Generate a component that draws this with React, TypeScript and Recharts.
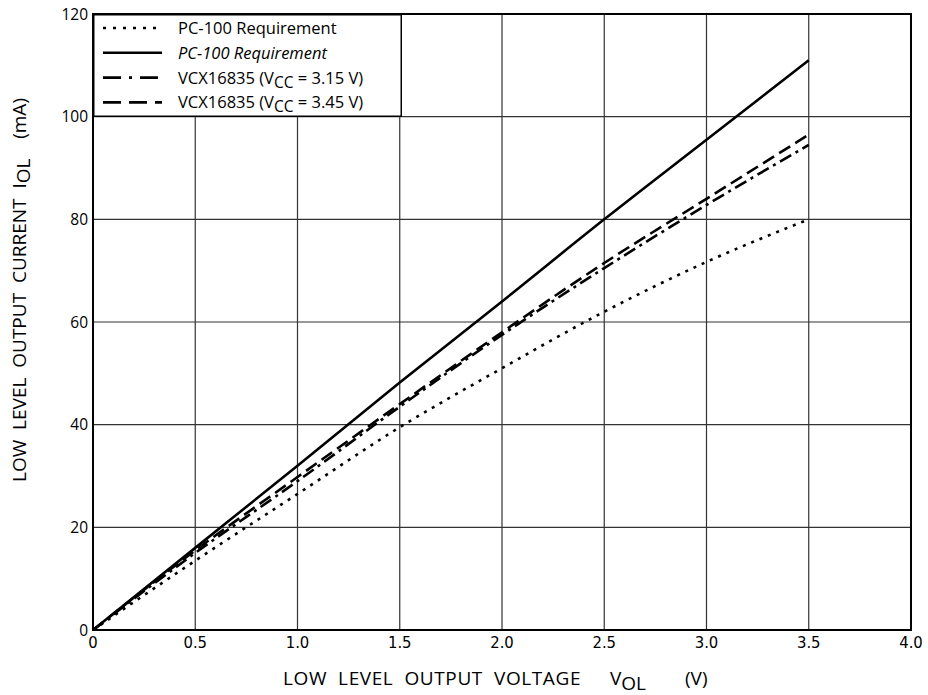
import { LineChart, Line, XAxis, YAxis, CartesianGrid, Legend, Label, ReferenceArea } from 'recharts';

// output voltage V_OL (V)
const voltages = [0, 0.5, 1.0, 1.5, 2.0, 2.5, 3.0, 3.5];
// output current I_OL (mA)
const pc100Min = [0, 13.5, 26.5, 39.5, 51, 62, 71.7, 80];
const pc100Max = [0, 16, 32, 48.2, 64, 80, 95.5, 111];
const vcc315 = [0, 15, 29, 43.5, 57.5, 70.5, 82.8, 94.5];
const vcc345 = [0, 15.5, 29.8, 44, 58, 71.5, 84, 96.5];

const xTicks = [0, 0.5, 1, 1.5, 2, 2.5, 3, 3.5, 4];
const yTicks = [0, 20, 40, 60, 80, 100, 120];

const data = voltages.map((v, i) => ({
  v,
  pc100Min: pc100Min[i],
  pc100Max: pc100Max[i],
  vcc315: vcc315[i],
  vcc345: vcc345[i],
}));

const series = [
  { key: 'pc100Min', dash: '3 6', legendDash: '3 7', label: 'PC-100 Requirement', italic: false, sub: null },
  { key: 'pc100Max', dash: undefined, legendDash: undefined, label: 'PC-100 Requirement', italic: true, sub: null },
  { key: 'vcc315', dash: '13 5 3 5', legendDash: '18 8 3 8', label: '3.15', italic: false, sub: true },
  { key: 'vcc345', dash: '13 6', legendDash: '18 8', label: '3.45', italic: false, sub: true },
];

const font = '"Open Sans", "DejaVu Sans", sans-serif';

function LegendBox() {
  return (
    <svg width={309} height={103} style={{ display: 'block' }}>
      <rect x={0.75} y={0.75} width={307.5} height={101.5} fill="#fff" stroke="#000" strokeWidth={1.5} />
      {series.map((s, i) => {
        const y = 14 + i * 24.8;
        return (
          <g key={s.key}>
            <line x1={10} x2={69} y1={y} y2={y} stroke="#000" strokeWidth={2.6} strokeDasharray={s.legendDash} />
            <text x={85} y={y + 6} fontFamily={font} fontSize={16.5} fontStyle={s.italic ? 'italic' : 'normal'} fill="#000">
              {s.sub ? (
                <>
                  VCX16835 (V<tspan dy={4} fontSize={15.5}>CC</tspan>
                  <tspan dy={-4}>{` = ${s.label} V)`}</tspan>
                </>
              ) : (
                s.label
              )}
            </text>
          </g>
        );
      })}
    </svg>
  );
}

function YTitle() {
  const cx = 26;
  const cy = 290;
  return (
    <text
      transform={`translate(${cx},${cy}) rotate(-90)`}
      textAnchor="middle"
      fontFamily={font}
      fontSize={19}
      fill="#000"
      style={{ whiteSpace: 'pre' }}
    >
      {'LOW  LEVEL  OUTPUT  CURRENT  I'}
      <tspan dy={4}>OL</tspan>
      <tspan dy={-4}>{'    (mA)'}</tspan>
    </text>
  );
}

function XTitle() {
  return (
    <text y={685} fontFamily={font} fontSize={19} fill="#000" style={{ whiteSpace: 'pre' }}>
      <tspan x={283} letterSpacing={0.6}>{'LOW  LEVEL  OUTPUT  VOLTAGE'}</tspan>
      <tspan x={610}>V</tspan>
      <tspan dy={5}>OL</tspan>
      <tspan x={685} dy={-5}>(V)</tspan>
    </text>
  );
}

export default function App() {
  return (
    <div style={{ position: 'absolute', left: 0, top: 0, background: '#fff' }}>
      <LineChart width={928} height={695} data={data} margin={{ top: 14, right: 17, bottom: 35, left: 0 }}>
        <CartesianGrid stroke="#333" strokeWidth={1.2} />
        <XAxis
          dataKey="v"
          type="number"
          domain={[0, 4]}
          ticks={xTicks}
          height={30}
          tickFormatter={(t: number) => (t === 0 ? '0' : t.toFixed(1))}
          tickLine={false}
          tickSize={0}
          tickMargin={6}
          axisLine={{ stroke: '#000', strokeWidth: 2 }}
          tick={{ fill: '#000', fontFamily: '"Liberation Sans Narrow", "DejaVu Sans Condensed", sans-serif', fontSize: 16.5 }}
          interval={0}
        >
          <Label content={<XTitle />} />
        </XAxis>
        <YAxis
          type="number"
          domain={[0, 120]}
          ticks={yTicks}
          width={93}
          tickLine={false}
          tickSize={0}
          tickMargin={5}
          axisLine={{ stroke: '#000', strokeWidth: 2 }}
          tick={{ fill: '#000', fontFamily: font, fontSize: 15.5 }}
          interval={0}
        >
          <Label content={<YTitle />} />
        </YAxis>
        <ReferenceArea x1={0} x2={4} y1={0} y2={120} fill="none" stroke="#000" strokeWidth={2} />
        {series.map((s) => (
          <Line
            key={s.key}
            dataKey={s.key}
            type="monotone"
            stroke="#000"
            strokeWidth={2.6}
            strokeDasharray={s.dash}
            dot={false}
            activeDot={false}
            isAnimationActive={false}
          />
        ))}
        <Legend
          layout="vertical"
          verticalAlign="middle"
          align="center"
          content={<LegendBox />}
          wrapperStyle={{ left: 93, top: 14, width: 309, height: 103 }}
        />
      </LineChart>
    </div>
  );
}
